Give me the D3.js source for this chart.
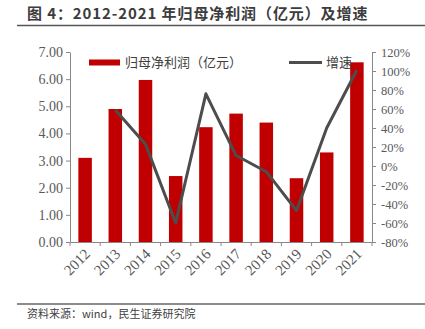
<!DOCTYPE html>
<html><head><meta charset="utf-8">
<script src="https://cdn.jsdelivr.net/npm/d3@7"></script>
<style>body{margin:0;background:#fff}svg{display:block}</style>
</head><body>
<svg id="c" width="425" height="329"></svg>
<script>
const categories = ["2012","2013","2014","2015","2016","2017","2018","2019","2020","2021"];
const profit = [3.10, 4.90, 5.97, 2.43, 4.23, 4.73, 4.40, 2.35, 3.30, 6.62];
const growth = [null, 59, 23, -60, 76, 11, -6, -47, 40, 101];
const leftTicks = [0,1,2,3,4,5,6,7];
const rightTicks = [-80,-60,-40,-20,0,20,40,60,80,100,120];

const svg = d3.select("#c");
const L = 70, R = 372, T = 52, B = 242;
const x = d3.scaleBand().domain(categories).range([L, R]).paddingInner(0).paddingOuter(0);
const y = d3.scaleLinear().domain([0, 7]).range([B, T]);
const y2 = d3.scaleLinear().domain([-80, 120]).range([B, T]);
const serif = "'Liberation Serif','DejaVu Serif',serif";
const cjk = "'Noto Sans CJK SC',sans-serif";

// title
svg.append("text").attr("x", 27).attr("y", 19).attr("font-family", cjk).attr("font-weight", "bold")
  .attr("font-size", 15).attr("letter-spacing", 0.9).attr("fill", "#3c3c3c").text("图 4：2012-2021 年归母净利润（亿元）及增速");
svg.append("line").attr("x1", 17).attr("x2", 425).attr("y1", 25.5).attr("y2", 25.5).attr("stroke", "#555").attr("stroke-width", 1.5);

// bars
const bw = 13.5;
svg.append("g").selectAll("rect").data(categories).join("rect")
  .attr("x", (d) => x(d) + x.bandwidth()/2 - bw/2)
  .attr("width", bw)
  .attr("y", (d, i) => y(profit[i]))
  .attr("height", (d, i) => B - y(profit[i]))
  .attr("fill", "#c00000");

// line
const pts = categories.map((d, i) => [x(d) + x.bandwidth()/2, growth[i]]).filter(p => p[1] !== null);
svg.append("path").datum(pts)
  .attr("d", d3.line().x(p => p[0]).y(p => y2(p[1])))
  .attr("fill", "none").attr("stroke", "#4d4d4d").attr("stroke-width", 3).attr("stroke-linejoin", "round");

// left axis
const gl = svg.append("g").attr("transform", `translate(${L},0)`)
  .call(d3.axisLeft(y).tickValues(leftTicks).tickFormat(d3.format(".2f")).tickSize(4).tickSizeOuter(0));
gl.selectAll("text").attr("font-family", serif).attr("font-size", 14).attr("fill", "#595959").attr("x", -7);

// right axis
const gr = svg.append("g").attr("transform", `translate(${R},0)`)
  .call(d3.axisRight(y2).tickValues(rightTicks).tickFormat(d => d + "%").tickSize(4).tickSizeOuter(0));
gr.selectAll("text").attr("font-family", serif).attr("font-size", 12.5).attr("fill", "#595959").attr("x", 9);

// bottom axis
const gb = svg.append("g").attr("transform", `translate(0,${B})`)
  .call(d3.axisBottom(x).tickSize(0).tickSizeOuter(0));
gb.selectAll(".tick line").remove();
gb.append("g").selectAll("line").data(d3.range(categories.length + 1)).join("line")
  .attr("x1", i => L + i * x.bandwidth()).attr("x2", i => L + i * x.bandwidth())
  .attr("y1", 0).attr("y2", 4).attr("stroke", "#888");
gb.selectAll(".tick text").attr("font-family", serif).attr("font-size", 15).attr("fill", "#595959")
  .attr("text-anchor", "end").attr("dy", null).attr("y", 0)
  .attr("transform", "translate(6,13) rotate(-45)");

svg.selectAll(".domain").attr("stroke", "#888");
svg.selectAll(".tick line").attr("stroke", "#888");

// legend
svg.append("rect").attr("x", 89).attr("y", 59.5).attr("width", 31).attr("height", 6).attr("fill", "#c00000");
svg.append("text").attr("x", 125).attr("y", 67).attr("font-family", cjk).attr("font-size", 13)
  .attr("fill", "#404040").text("归母净利润（亿元）");
svg.append("line").attr("x1", 289).attr("x2", 322).attr("y1", 62.5).attr("y2", 62.5).attr("stroke", "#4d4d4d").attr("stroke-width", 3);
svg.append("text").attr("x", 326).attr("y", 67).attr("font-family", cjk).attr("font-size", 13)
  .attr("fill", "#404040").text("增速");

// footer
svg.append("line").attr("x1", 17).attr("x2", 425).attr("y1", 304).attr("y2", 304).attr("stroke", "#666").attr("stroke-width", 1.5);
svg.append("text").attr("x", 27).attr("y", 318).attr("font-family", cjk).attr("font-size", 11)
  .attr("fill", "#404040").text("资料来源：wind，民生证券研究院");
</script>
</body></html>
